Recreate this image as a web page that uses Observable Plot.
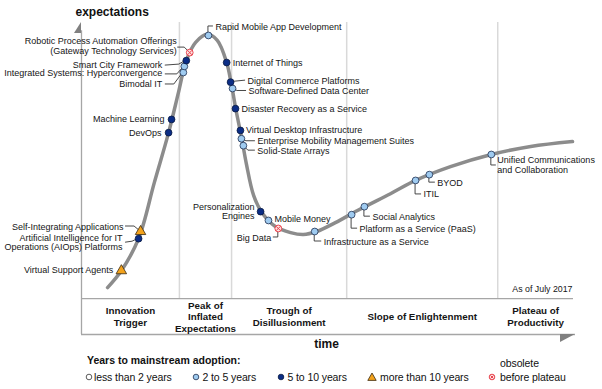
<!DOCTYPE html>
<html><head><meta charset="utf-8">
<script src="https://cdn.jsdelivr.net/npm/d3@7"></script>
<script src="https://cdn.jsdelivr.net/npm/@observablehq/plot@0.6"></script>
<style>
html,body{margin:0;padding:0;background:#fff;}
#wrap{position:relative;width:602px;height:389px;font-family:"Liberation Sans",Arial,sans-serif;color:#111;overflow:hidden;}
.lg{position:absolute;white-space:nowrap;font-size:10.5px;line-height:12px;letter-spacing:-0.1px;}
.ic{position:absolute;}
</style></head><body>
<div id="wrap"><div id="chart"></div></div>
<script>
// ---- Hype cycle curve (time, expectations) ----
const curveTime   = [5.3, 8.1, 11.6, 14.8, 17.7, 19.7, 21.3, 23.2, 25.6, 27.6, 29.5, 30.5, 31.5, 32.5, 33.5, 35.0, 36.8, 39.4, 42.5, 45.1, 47.8, 51.6, 56.1, 62.8, 67.9, 75.0, 83.3, 91.3, 99.8];
const curveExpect = [4.0, 10.1, 21.7, 42.0, 60.1, 74.6, 86.2, 92.8, 95.7, 93.5, 85.5, 77.2, 67.4, 58.7, 48.9, 37.3, 30.8, 26.1, 23.9, 23.2, 24.3, 27.5, 31.9, 38.0, 42.8, 47.8, 52.2, 55.1, 56.9];

// ---- Technologies ----
const techNames = [
  "Virtual Support Agents",
  "Artificial Intelligence for IT\nOperations (AIOps) Platforms",
  "Self-Integrating Applications",
  "DevOps",
  "Machine Learning",
  "Bimodal IT",
  "Integrated Systems: Hyperconvergence",
  "Smart City Framework",
  "Robotic Process Automation Offerings\n(Gateway Technology Services)",
  "Rapid Mobile App Development",
  "Internet of Things",
  "Digital Commerce Platforms",
  "Software-Defined Data Center",
  "Disaster Recovery as a Service",
  "Virtual Desktop Infrastructure",
  "Enterprise Mobility Management Suites",
  "Solid-State Arrays",
  "Personalization\nEngines",
  "Mobile Money",
  "Big Data",
  "Infrastructure as a Service",
  "Platform as a Service (PaaS)",
  "Social Analytics",
  "ITIL",
  "BYOD",
  "Unified Communications\nand Collaboration"
];
const techTime   = [8.1, 11.6, 12.0, 17.7, 18.3, 20.7, 20.9, 21.3, 22.0, 25.8, 29.5, 30.3, 30.7, 31.3, 32.3, 32.5, 32.9, 36.4, 38.0, 40.0, 47.4, 54.9, 57.5, 67.9, 70.7, 83.3];
const techExpect = [10.1, 21.7, 24.3, 60.1, 64.9, 81.9, 84.1, 86.2, 89.1, 95.3, 85.5, 78.4, 76.1, 68.8, 60.9, 57.9, 55.4, 31.5, 28.3, 25.4, 24.3, 30.4, 33.3, 42.8, 44.9, 52.2];
const techAdoption = ["gt10","5to10","gt10","5to10","5to10","2to5","2to5","5to10","obsolete","2to5","5to10","5to10","2to5","5to10","5to10","2to5","2to5","5to10","2to5","obsolete","2to5","2to5","2to5","2to5","2to5","2to5"];

// ---- Phases ----
const phaseNames = ["Innovation\nTrigger", "Peak of\nInflated\nExpectations", "Trough of\nDisillusionment", "Slope of Enlightenment", "Plateau of\nProductivity"];
const phaseEnds = [19.9, 30.5, 53.9, 84.6, 100];

// ---- Legend ----
const adoptionKeys = ["lt2","2to5","5to10","gt10","obsolete"];
const adoptionLabels = ["less than 2 years","2 to 5 years","5 to 10 years","more than 10 years","obsolete\nbefore plateau"];
const legendTitle = "Years to mainstream adoption:";
const asOfText = "As of July 2017";

// ---- Layout (pixel offsets of labels and leader lines) ----
const labelLayout = [
  [-8, -1, "end", null],
  [-16, 3.5, "end", [[-13,4],[-6,3],[0,0]]],
  [-17, -5, "end", [[-15,-5],[-6,-5],[0,0]]],
  [-7, 0, "end", null],
  [-7, 0, "end", null],
  [-21, 11, "end", [[-18,12],[-9,12],[0,0]]],
  [-22, 7, "end", [[-19,8],[-7,8],[0,0]]],
  [-24, 4, "end", [[-21,5],[-7,4],[0,0]]],
  [-13, -6.5, "end", [[-12,-5],[-5,-5],[0,0]]],
  [7, -9, "start", [[0,0],[0,-9],[5,-9]]],
  [6, 0, "start", null],
  [17, -1.5, "start", [[0,0],[15,-1.5]]],
  [16, 2, "start", [[0,0],[5,2.5],[14,2.5]]],
  [6, 0, "start", null],
  [5.5, -0.5, "start", null],
  [16, 2.5, "start", [[0,0],[5,2.5],[14,2.5]]],
  [14, 5, "start", [[0,0],[5,5],[12,5]]],
  [-6, 0, "end", null],
  [6, -1, "start", null],
  [-7, 9, "end", [[0,0],[0,9],[-5,9]]],
  [9, 10, "start", [[0,0],[0,10],[7,10]]],
  [8, 14, "start", [[0,0],[0,14],[6,14]]],
  [8, 10, "start", [[0,0],[0,10],[6,10]]],
  [8, 14, "start", [[0,0],[0,14],[6,14]]],
  [8, 8, "start", [[0,0],[0,8],[6,8]]],
  [6, 10.5, "start", [[0,0],[0,11],[5,11]]]
];

const styles = {
  lt2:   {fill: "#ffffff", stroke: "#333333"},
  "2to5":{fill: "#9fcbf0", stroke: "#1f3050"},
  "5to10":{fill: "#0b2d86", stroke: "#0a1a40"},
  gt10:  {fill: "#f3a21b", stroke: "#3a2a10"},
  obsolete: {fill: "#ffffff", stroke: "#e8454f"}
};

const curve = curveTime.map((t, i) => ({time: t, expect: curveExpect[i]}));
const techs = techNames.map((n, i) => ({name: n, time: techTime[i], expect: techExpect[i], adoption: techAdoption[i]}));
const phaseStarts = [0, ...phaseEnds.slice(0, -1)];
const phases = phaseNames.map((n, i) => ({name: n, mid: (phaseStarts[i] + phaseEnds[i]) / 2}));

const Y0 = -13, YTOP = 100;

function leaderMark(index, scales) {
  const x = scales.x, y = scales.y;
  const g = d3.create("svg:g").attr("fill", "none").attr("stroke", "#333").attr("stroke-width", 0.9);
  techs.forEach((d, i) => {
    const L = labelLayout[i][3];
    if (!L) return;
    const cx = x(d.time), cy = y(d.expect);
    g.append("path").attr("d", "M" + L.map(([a, b]) => (cx + a) + "," + (cy + b)).join("L"));
  });
  return g.node();
}
function arrowMark(index, scales) {
  const x = scales.x, y = scales.y;
  const g = d3.create("svg:g").attr("fill", "#808080");
  const x0 = x(0), yT = y(YTOP);
  g.append("path").attr("d", `M${x0},${yT}L${x0},${yT + 11}L${x0 - 7},${yT + 11}Z`);
  const xR = x(100), yB = y(Y0);
  g.append("path").attr("d", `M${xR + 2},${yB}L${xR - 13},${yB}L${xR - 13},${yB + 8}Z`);
  return g.node();
}

const labelMarks = techs.map((d, i) => Plot.text([d], {
  x: "time", y: "expect", text: "name",
  dx: labelLayout[i][0], dy: labelLayout[i][1], textAnchor: labelLayout[i][2],
  fontSize: 9, lineHeight: 1.05, fill: "#151515"
}));

const byA = k => techs.filter(d => d.adoption === k);

const chart = Plot.plot({
  width: 602, height: 352,
  marginLeft: 81, marginRight: 29, marginTop: 22, marginBottom: 18,
  x: {domain: [0, 100], axis: null},
  y: {domain: [Y0, YTOP], axis: null},
  style: {fontFamily: "'Liberation Sans', Arial, sans-serif", background: "transparent", overflow: "visible"},
  marks: [
    Plot.ruleX(phaseEnds.slice(0, -1), {y1: 0, y2: YTOP, stroke: "#d9d9d9", strokeWidth: 1.5}),
    Plot.ruleY([0], {x1: 0, x2: 100, stroke: "#a6a6a6", strokeWidth: 1.3}),
    Plot.ruleY([Y0], {x1: 0, x2: 100.4, stroke: "#a6a6a6", strokeWidth: 1.3}),
    Plot.ruleX([0], {y1: Y0, y2: YTOP - 3, stroke: "#a6a6a6", strokeWidth: 1.3}),
    arrowMark,
    Plot.text(["expectations"], {x: 0, y: YTOP, dx: -6, dy: -10, textAnchor: "start", fontWeight: "bold", fontSize: 12, fill: "#111"}),
    Plot.text(["time"], {x: 49.8, y: Y0, dy: 10, fontWeight: "bold", fontSize: 12, fill: "#111"}),
    Plot.text([asOfText], {x: 100, y: 0, dx: -1, dy: -9, textAnchor: "end", fontSize: 8.8, fill: "#151515"}),
    Plot.text(phases, {x: "mid", y: -6.5, text: "name", fontWeight: "bold", fontSize: 9.8, lineHeight: 1.17, fill: "#151515"}),
    Plot.line(curve, {x: "time", y: "expect", curve: "catmull-rom", stroke: "#8c8c8c", strokeWidth: 3.5}),
    leaderMark,
    ...labelMarks,
    Plot.dot(byA("2to5"), {x: "time", y: "expect", r: 3.4, fill: styles["2to5"].fill, stroke: styles["2to5"].stroke, strokeWidth: 0.8}),
    Plot.dot(byA("5to10"), {x: "time", y: "expect", r: 3.4, fill: styles["5to10"].fill, stroke: styles["5to10"].stroke, strokeWidth: 0.8}),
    Plot.dot(byA("gt10"), {x: "time", y: "expect", r: 3.9, symbol: "triangle", fill: styles.gt10.fill, stroke: styles.gt10.stroke, strokeWidth: 0.8}),
    Plot.dot(byA("obsolete"), {x: "time", y: "expect", r: 3.4, fill: "#fde3e3", stroke: styles.obsolete.stroke, strokeWidth: 1}),
    Plot.dot(byA("obsolete"), {x: "time", y: "expect", r: 2.2, symbol: "times", stroke: styles.obsolete.stroke, strokeWidth: 1})
  ]
});
document.getElementById("chart").appendChild(chart);

// ---- Legend (HTML below the SVG) ----
const wrap = document.getElementById("wrap");
function addText(txt, left, centerY, bold) {
  const s = document.createElement("div");
  s.className = "lg";
  s.textContent = txt;
  s.style.left = left + "px";
  s.style.top = (centerY - 6) + "px";
  if (bold) { s.style.fontWeight = "bold"; s.style.letterSpacing = "0"; }
  wrap.appendChild(s);
}
function addIcon(key, cx, cy) {
  const ns = "http://www.w3.org/2000/svg";
  const svg = document.createElementNS(ns, "svg");
  svg.setAttribute("width", 12); svg.setAttribute("height", 12);
  svg.setAttribute("class", "ic");
  svg.style.left = (cx - 6) + "px"; svg.style.top = (cy - 6) + "px";
  const st = styles[key];
  let el;
  if (key === "gt10") {
    el = document.createElementNS(ns, "path");
    el.setAttribute("d", "M6,2 L10.2,9.4 L1.8,9.4 Z");
  } else {
    el = document.createElementNS(ns, "circle");
    el.setAttribute("cx", 6); el.setAttribute("cy", 6); el.setAttribute("r", 2.8);
  }
  el.setAttribute("fill", key === "obsolete" ? "#fde3e3" : st.fill);
  el.setAttribute("stroke", st.stroke);
  el.setAttribute("stroke-width", key === "obsolete" ? 1 : 0.8);
  svg.appendChild(el);
  if (key === "obsolete") {
    const p = document.createElementNS(ns, "path");
    p.setAttribute("d", "M4.5,4.5L7.5,7.5M7.5,4.5L4.5,7.5");
    p.setAttribute("stroke", st.stroke); p.setAttribute("stroke-width", 1);
    svg.appendChild(p);
  }
  wrap.appendChild(svg);
}
addText(legendTitle, 87, 360, true);
const legendIconX = [89, 196, 281, 372, 492];
const legendTextX = [94, 202.5, 287.5, 380, 500];
adoptionKeys.forEach((k, i) => {
  addIcon(k, legendIconX[i], 377);
  const parts = adoptionLabels[i].split("\n");
  if (parts.length === 2) {
    addText(parts[0], legendTextX[i], 363);
    addText(parts[1], legendTextX[i], 377);
  } else {
    addText(parts[0], legendTextX[i], 377);
  }
});
</script>
</body></html>
